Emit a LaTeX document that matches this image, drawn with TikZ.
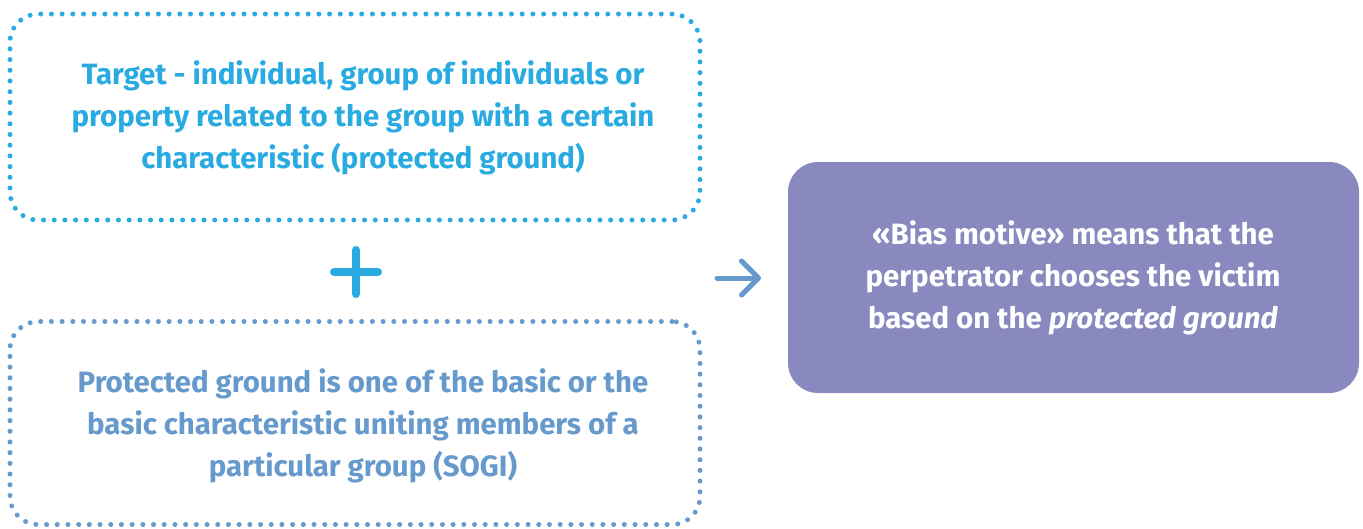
\documentclass[tikz,border=0pt]{standalone}
\usepackage{fontspec}
\setmainfont{Fira Sans}
\usetikzlibrary{arrows.meta}
\definecolor{lblue}{HTML}{29ABE2}
\definecolor{mblue}{HTML}{6699CC}
\definecolor{purp}{HTML}{8A89BF}
\tikzset{
  dotbox/.style={line width=5pt, dash pattern=on 0pt off 10.7pt, line cap=round, rounded corners=28pt, minimum width=690pt},
  txt/.style={align=center, font=\fontsize{29.4}{42}\selectfont\bfseries, inner sep=0pt},
  purpbox/.style={fill=purp, rounded corners=30pt, minimum width=571pt, minimum height=231pt},
}
\begin{document}
\begin{tikzpicture}[x=1pt,y=-1pt]
\useasboundingbox (0,0) rectangle (1363,528);
\node[dotbox, draw=lblue, minimum height=206pt] (topbox) at (355,117) {};
\node[txt, text=lblue] (toptext) at (363,118) {Target - individual, group of individuals or\\property related to the group with a certain\\characteristic (protected ground)};
\node[dotbox, draw=mblue, minimum height=203pt] (botbox) at (355,423) {};
\node[txt, text=mblue] (bottext) at (363,426) {Protected ground is one of the basic or the\\basic characteristic uniting members of a\\particular group (SOGI)};
\node[purpbox] (res) at (1073.5,277.5) {};
\node[txt, text=white] (restext) at (1073,278) {«Bias motive» means that the\\perpetrator chooses the victim\\based on the \textit{protected ground}};
\node[inner sep=0pt] (plus) at (356,272) {};
\draw[lblue, line width=8pt, line cap=round] ([xshift=-22pt]plus.center) -- ([xshift=22pt]plus.center);
\draw[lblue, line width=8pt, line cap=round] ([yshift=-22pt]plus.center) -- ([yshift=22pt]plus.center);
\coordinate (as) at (717,278);
\coordinate (ae) at (761,278);
\draw[mblue, line width=5pt, line cap=round, -{Straight Barb[length=17pt,width=34pt,round]}] (as) -- (ae);
\end{tikzpicture}
\end{document}
